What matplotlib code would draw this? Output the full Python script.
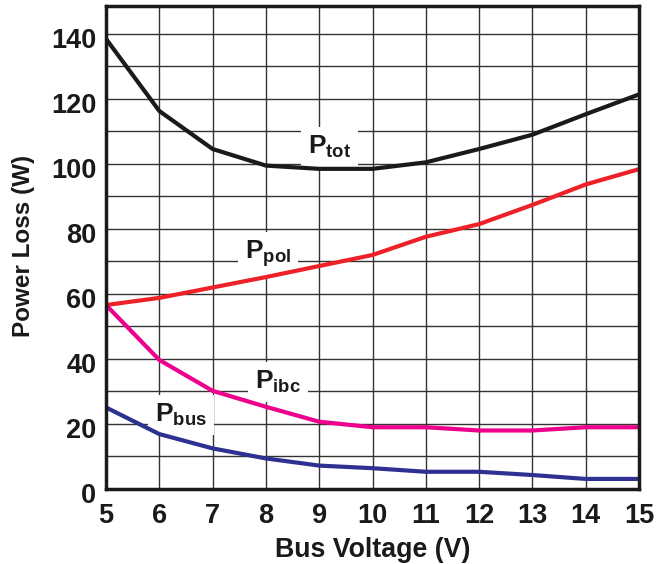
import matplotlib
matplotlib.use("Agg")
import matplotlib.pyplot as plt
from matplotlib.transforms import ScaledTranslation

voltage = [5, 6, 7, 8, 9, 10, 11, 12, 13, 14, 15]
p_tot = [138.5, 116.3, 104.6, 99.5, 98.5, 98.5, 100.5, 104.6, 109.0, 115.3, 121.4]
p_pol = [56.6, 58.8, 62.0, 65.2, 68.6, 72.0, 77.6, 81.5, 87.4, 93.7, 98.4]
p_ibc = [56.6, 39.7, 30.2, 25.3, 20.7, 19.0, 19.0, 18.0, 18.0, 19.0, 19.0]
p_bus = [25.1, 16.9, 12.5, 9.4, 7.2, 6.4, 5.3, 5.3, 4.3, 3.1, 3.1]

series_names = ["tot", "pol", "ibc", "bus"]
series_values = [p_tot, p_pol, p_ibc, p_bus]
series_colors = ["#1a1a1a", "#ee2128", "#ec008c", "#2e3192"]
label_pos = [(9.2, 105.3), (8.04, 72.3), (8.23, 33.0), (6.41, 22.8)]

x_ticks = list(range(5, 16))
y_ticks = list(range(0, 141, 20))

plt.rcParams['font.family'] = ['Liberation Sans', 'DejaVu Sans']
plt.rcParams['mathtext.fontset'] = 'custom'
plt.rcParams['mathtext.rm'] = 'Liberation Sans:bold'
plt.rcParams['mathtext.bf'] = 'Liberation Sans:bold'
plt.rcParams['mathtext.it'] = 'Liberation Sans:bold'

fig = plt.figure(figsize=(6.7, 5.64), dpi=100)
ax = fig.add_axes([106/670, 1-489/564, 533/670, 483/564])

for vals, col in zip(series_values, series_colors):
    ax.plot(voltage, vals, color=col, lw=3.0, zorder=3, solid_capstyle='butt')

for name, (lx, ly) in zip(series_names, label_pos):
    ax.text(lx, ly, 'P$_{\\mathrm{%s}}$' % name, fontsize=19, fontweight='bold',
            ha='center', va='center', color='#1a1a1a', zorder=2.5,
            bbox=dict(facecolor='white', edgecolor='none', pad=5))

ax.set_xlim(5, 15)
ax.set_ylim(0, 148.6)
ax.set_xticks(x_ticks)
ax.set_yticks(y_ticks)
ax.set_yticks(list(range(10, 141, 20)), minor=True)
ax.grid(True, which='both', color='#333333', lw=1.0)
ax.set_axisbelow(True)
ax.tick_params(axis='both', which='both', length=0, labelsize=19.5, colors='#1a1a1a')
ax.tick_params(axis='x', pad=10)
ax.tick_params(axis='y', pad=7)
for lbl in ax.get_xticklabels() + ax.get_yticklabels():
    lbl.set_fontweight('bold')
for lbl in ax.get_yticklabels():
    lbl.set_transform(lbl.get_transform() + ScaledTranslation(0, -0.04, fig.dpi_scale_trans))
for sp in ax.spines.values():
    sp.set_linewidth(2.5)
    sp.set_color('#1a1a1a')
    sp.set_zorder(4)

ax.set_xlabel('Bus Voltage (V)', fontsize=19.3, fontweight='bold', color='#1a1a1a', labelpad=6)
ax.set_ylabel('Power Loss (W)', fontsize=17.5, fontweight='bold', color='#1a1a1a')
ax.yaxis.set_label_coords(24/670, 0.5, transform=fig.transFigure)
ax.yaxis.label.set_va('center')
ax.yaxis.label.set_y(1 - 246/564)

fig.savefig('out.png', dpi=100)
